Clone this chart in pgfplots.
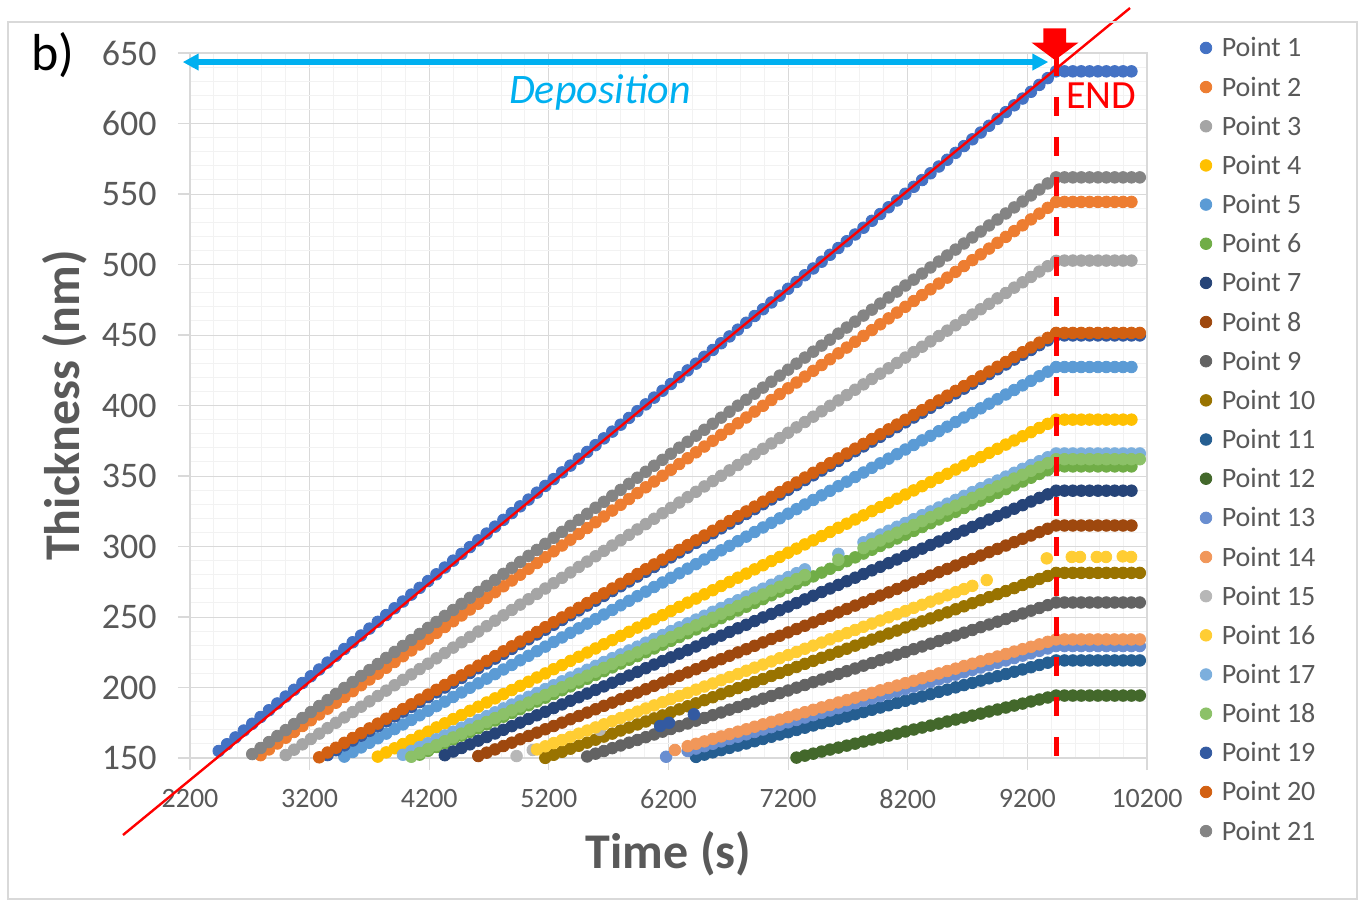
\documentclass[border=0pt]{standalone}
\usepackage{pgfplots}
\pgfplotsset{compat=1.18}
\usepackage{fontspec}
\setmainfont{Carlito}
\usetikzlibrary{arrows.meta}
\definecolor{c1}{HTML}{4472C4}\definecolor{c2}{HTML}{ED7D31}\definecolor{c3}{HTML}{A5A5A5}
\definecolor{c4}{HTML}{FFC000}\definecolor{c5}{HTML}{5B9BD5}\definecolor{c6}{HTML}{70AD47}
\definecolor{c7}{HTML}{264478}\definecolor{c8}{HTML}{9E480E}\definecolor{c9}{HTML}{636363}
\definecolor{c10}{HTML}{997300}\definecolor{c11}{HTML}{255E91}\definecolor{c12}{HTML}{43682B}
\definecolor{c13}{HTML}{698ED0}\definecolor{c14}{HTML}{F1975A}\definecolor{c15}{HTML}{B7B7B7}
\definecolor{c16}{HTML}{FFCD33}\definecolor{c17}{HTML}{7CAFDD}\definecolor{c18}{HTML}{8CC168}
\definecolor{c19}{HTML}{335AA1}\definecolor{c20}{HTML}{D26012}\definecolor{c21}{HTML}{848484}
\definecolor{txt}{HTML}{595959}\definecolor{gmaj}{HTML}{D9D9D9}\definecolor{gmin}{HTML}{F2F2F2}
\definecolor{dep}{HTML}{00B0F0}
\pgfplotsset{dot/.style={only marks, mark=*, mark size=2.9pt, color=#1}}
\begin{document}
\begin{tikzpicture}
\begin{axis}[
  set layers,
  scale only axis, width=478.5pt, height=352.5pt,
  xmin=2200, xmax=10200, ymin=150, ymax=650,
  xtick={2200,3200,4200,5200,6200,7200,8200,9200,10200},
  ytick={150,200,250,300,350,400,450,500,550,600,650},
  minor x tick num=4, minor y tick num=4,
  grid=both,
  major grid style={draw=gmaj, line width=0.5pt},
  minor grid style={draw=gmin, line width=0.5pt},
  axis line style={draw=gmaj, line width=0.6pt},
  tick pos=left, tick align=outside,
  major tick length=6pt, minor tick length=0pt,
  tick style={draw=gmaj, line width=0.6pt},
  scaled ticks=false,
  /pgf/number format/1000 sep={},
  /pgf/number format/assume math mode=true,
  xticklabel style={font=\fontsize{14}{14}\selectfont, text=txt, inner sep=0pt, anchor=north, yshift=-9.65pt},
  yticklabel style={font=\fontsize{18}{18}\selectfont, text=txt, inner sep=0pt, anchor=east, xshift=-10.5pt},
  xlabel={Time (s)}, ylabel={Thickness (nm)},
  xlabel style={font=\fontsize{25}{25}\selectfont\bfseries, text=txt, at={(axis description cs:0.5,-0.1355)}, anchor=center},
  ylabel style={font=\fontsize{25}{25}\selectfont\bfseries, text=txt, at={(axis description cs:-0.1306,0.5)}, anchor=center},
  clip=false,
  legend cell align=left,
  legend image code/.code={\draw[#1] plot coordinates {(0pt,0pt)};},
  legend style={at={(axis cs:10644.7,667.5)}, anchor=north west, draw=none, fill=none,
    inner sep=0pt, outer sep=0pt, row sep=0pt, column sep=5pt,
    font=\fontsize{14}{14}\selectfont,
    nodes={inner sep=0pt, text height=14.29pt, text depth=5.29pt, text=txt}},
]
% Point 1
\addplot[dot=c1] coordinates {(2440,155.0)(2510,159.8)(2580,164.6)(2650,169.5)(2720,174.3)(2790,179.1)(2860,183.9)(2930,188.7)(3000,193.6)(3070,198.4)(3140,203.2)(3210,208.0)(3280,212.8)(3350,217.7)(3420,222.5)(3490,227.3)(3560,232.1)(3630,236.9)(3700,241.8)(3770,246.6)(3840,251.4)(3910,256.2)(3980,261.0)(4050,265.9)(4120,270.7)(4190,275.5)(4260,280.3)(4330,285.1)(4400,290.0)(4470,294.8)(4540,299.6)(4610,304.4)(4680,309.2)(4750,314.1)(4820,318.9)(4890,323.7)(4960,328.5)(5030,333.3)(5100,338.2)(5170,343.0)(5240,347.8)(5310,352.6)(5380,357.4)(5450,362.3)(5520,367.1)(5590,371.9)(5660,376.7)(5730,381.5)(5800,386.4)(5870,391.2)(5940,396.0)(6010,400.8)(6080,405.6)(6150,410.5)(6220,415.3)(6290,420.1)(6360,424.9)(6430,429.7)(6500,434.6)(6570,439.4)(6640,444.2)(6710,449.0)(6780,453.8)(6850,458.7)(6920,463.5)(6990,468.3)(7060,473.1)(7130,477.9)(7200,482.8)(7270,487.6)(7340,492.4)(7410,497.2)(7480,502.0)(7550,506.9)(7620,511.7)(7690,516.5)(7760,521.3)(7830,526.1)(7900,531.0)(7970,535.8)(8040,540.6)(8110,545.4)(8180,550.2)(8250,555.1)(8320,559.9)(8390,564.7)(8460,569.5)(8530,574.3)(8600,579.2)(8670,584.0)(8740,588.8)(8810,593.6)(8880,598.4)(8950,603.3)(9020,608.1)(9090,612.9)(9160,617.7)(9230,622.5)(9300,627.4)(9370,632.2)(9440,637.0)(9510,637.0)(9580,637.0)(9650,637.0)(9720,637.0)(9790,637.0)(9860,637.0)(9930,637.0)(10000,637.0)(10070,637.0)};
\addlegendentry{Point 1}
% Point 2
\addplot[dot=c2] coordinates {(2790,152.0)(2860,156.1)(2930,160.3)(3000,164.4)(3070,168.5)(3140,172.7)(3210,176.8)(3280,180.9)(3350,185.0)(3420,189.2)(3490,193.3)(3560,197.4)(3630,201.6)(3700,205.7)(3770,209.8)(3840,214.0)(3910,218.1)(3980,222.2)(4050,226.3)(4120,230.5)(4190,234.6)(4260,238.7)(4330,242.9)(4400,247.0)(4470,251.1)(4540,255.3)(4610,259.4)(4680,263.5)(4750,267.6)(4820,271.8)(4890,275.9)(4960,280.0)(5030,284.2)(5100,288.3)(5170,292.4)(5240,296.6)(5310,300.7)(5380,304.8)(5450,308.9)(5520,313.1)(5590,317.2)(5660,321.3)(5730,325.5)(5800,329.6)(5870,333.7)(5940,337.9)(6010,342.0)(6080,346.1)(6150,350.2)(6220,354.4)(6290,358.5)(6360,362.6)(6430,366.8)(6500,370.9)(6570,375.0)(6640,379.2)(6710,383.3)(6780,387.4)(6850,391.5)(6920,395.7)(6990,399.8)(7060,403.9)(7130,408.1)(7200,412.2)(7270,416.3)(7340,420.5)(7410,424.6)(7480,428.7)(7550,432.8)(7620,437.0)(7690,441.1)(7760,445.2)(7830,449.4)(7900,453.5)(7970,457.6)(8040,461.8)(8110,465.9)(8180,470.0)(8250,474.1)(8320,478.3)(8390,482.4)(8460,486.5)(8530,490.7)(8600,494.8)(8670,498.9)(8740,503.1)(8810,507.2)(8880,511.3)(8950,515.4)(9020,519.6)(9090,523.7)(9160,527.8)(9230,532.0)(9300,536.1)(9370,540.2)(9440,544.4)(9510,544.4)(9580,544.4)(9650,544.4)(9720,544.4)(9790,544.4)(9860,544.4)(9930,544.4)(10000,544.4)(10070,544.4)};
\addlegendentry{Point 2}
% Point 3
\addplot[dot=c3] coordinates {(3000,152.1)(3070,155.9)(3140,159.7)(3210,163.5)(3280,167.3)(3350,171.2)(3420,175.0)(3490,178.8)(3560,182.6)(3630,186.4)(3700,190.2)(3770,194.0)(3840,197.8)(3910,201.6)(3980,205.4)(4050,209.3)(4120,213.1)(4190,216.9)(4260,220.7)(4330,224.5)(4400,228.3)(4470,232.1)(4540,235.9)(4610,239.7)(4680,243.5)(4750,247.4)(4820,251.2)(4890,255.0)(4960,258.8)(5030,262.6)(5100,266.4)(5170,270.2)(5240,274.0)(5310,277.8)(5380,281.6)(5450,285.5)(5520,289.3)(5590,293.1)(5660,296.9)(5730,300.7)(5800,304.5)(5870,308.3)(5940,312.1)(6010,315.9)(6080,319.7)(6150,323.6)(6220,327.4)(6290,331.2)(6360,335.0)(6430,338.8)(6500,342.6)(6570,346.4)(6640,350.2)(6710,354.0)(6780,357.8)(6850,361.7)(6920,365.5)(6990,369.3)(7060,373.1)(7130,376.9)(7200,380.7)(7270,384.5)(7340,388.3)(7410,392.1)(7480,395.9)(7550,399.8)(7620,403.6)(7690,407.4)(7760,411.2)(7830,415.0)(7900,418.8)(7970,422.6)(8040,426.4)(8110,430.2)(8180,434.0)(8250,437.9)(8320,441.7)(8390,445.5)(8460,449.3)(8530,453.1)(8600,456.9)(8670,460.7)(8740,464.5)(8810,468.3)(8880,472.1)(8950,476.0)(9020,479.8)(9090,483.6)(9160,487.4)(9230,491.2)(9300,495.0)(9370,498.8)(9440,502.6)(9510,502.8)(9580,502.8)(9650,502.8)(9720,502.8)(9790,502.8)(9860,502.8)(9930,502.8)(10000,502.8)(10070,502.8)};
\addlegendentry{Point 3}
% Point 4
\addplot[dot=c4] coordinates {(3770,151.0)(3840,154.0)(3910,156.9)(3980,159.9)(4050,162.8)(4120,165.8)(4190,168.7)(4260,171.7)(4330,174.6)(4400,177.6)(4470,180.5)(4540,183.5)(4610,186.4)(4680,189.4)(4750,192.3)(4820,195.3)(4890,198.2)(4960,201.2)(5030,204.1)(5100,207.1)(5170,210.0)(5240,213.0)(5310,215.9)(5380,218.9)(5450,221.8)(5520,224.8)(5590,227.7)(5660,230.7)(5730,233.6)(5800,236.6)(5870,239.5)(5940,242.5)(6010,245.4)(6080,248.4)(6150,251.3)(6220,254.3)(6290,257.2)(6360,260.2)(6430,263.1)(6500,266.1)(6570,269.0)(6640,272.0)(6710,274.9)(6780,277.9)(6850,280.8)(6920,283.8)(6990,286.7)(7060,289.7)(7130,292.6)(7200,295.6)(7270,298.5)(7340,301.5)(7410,304.4)(7480,307.4)(7550,310.3)(7620,313.3)(7690,316.2)(7760,319.2)(7830,322.1)(7900,325.1)(7970,328.0)(8040,331.0)(8110,333.9)(8180,336.9)(8250,339.8)(8320,342.8)(8390,345.7)(8460,348.7)(8530,351.6)(8600,354.6)(8670,357.5)(8740,360.5)(8810,363.4)(8880,366.4)(8950,369.3)(9020,372.3)(9090,375.2)(9160,378.2)(9230,381.1)(9300,384.1)(9370,387.0)(9440,390.0)(9510,390.0)(9580,390.0)(9650,390.0)(9720,390.0)(9790,390.0)(9860,390.0)(9930,390.0)(10000,390.0)(10070,390.0)};
\addlegendentry{Point 4}
% Point 5
\addplot[dot=c5] coordinates {(3490,151.0)(3560,154.3)(3630,157.5)(3700,160.8)(3770,164.0)(3840,167.3)(3910,170.5)(3980,173.8)(4050,177.0)(4120,180.3)(4190,183.5)(4260,186.8)(4330,190.0)(4400,193.3)(4470,196.5)(4540,199.8)(4610,203.0)(4680,206.3)(4750,209.5)(4820,212.8)(4890,216.0)(4960,219.3)(5030,222.5)(5100,225.8)(5170,229.0)(5240,232.3)(5310,235.5)(5380,238.8)(5450,242.0)(5520,245.3)(5590,248.5)(5660,251.8)(5730,255.0)(5800,258.3)(5870,261.5)(5940,264.8)(6010,268.0)(6080,271.3)(6150,274.5)(6220,277.8)(6290,281.0)(6360,284.3)(6430,287.5)(6500,290.8)(6570,294.0)(6640,297.3)(6710,300.5)(6780,303.8)(6850,307.0)(6920,310.3)(6990,313.5)(7060,316.8)(7130,320.0)(7200,323.3)(7270,326.5)(7340,329.8)(7410,333.0)(7480,336.3)(7550,339.5)(7620,342.8)(7690,346.0)(7760,349.3)(7830,352.5)(7900,355.8)(7970,359.0)(8040,362.3)(8110,365.5)(8180,368.8)(8250,372.0)(8320,375.3)(8390,378.5)(8460,381.8)(8530,385.0)(8600,388.3)(8670,391.5)(8740,394.8)(8810,398.0)(8880,401.3)(8950,404.5)(9020,407.8)(9090,411.0)(9160,414.3)(9230,417.5)(9300,420.8)(9370,424.0)(9440,427.3)(9510,427.3)(9580,427.3)(9650,427.3)(9720,427.3)(9790,427.3)(9860,427.3)(9930,427.3)(10000,427.3)(10070,427.3)};
\addlegendentry{Point 5}
% Point 6
\addplot[dot=c6] coordinates {(4120,152.4)(4190,155.1)(4260,157.8)(4330,160.5)(4400,163.2)(4470,165.9)(4540,168.5)(4610,171.2)(4680,173.9)(4750,176.6)(4820,179.3)(4890,182.0)(4960,184.7)(5030,187.4)(5100,190.1)(5170,192.8)(5240,195.4)(5310,198.1)(5380,200.8)(5450,203.5)(5520,206.2)(5590,208.9)(5660,211.6)(5730,214.3)(5800,217.0)(5870,219.7)(5940,222.3)(6010,225.0)(6080,227.7)(6150,230.4)(6220,233.1)(6290,235.8)(6360,238.5)(6430,241.2)(6500,243.9)(6570,246.6)(6640,249.2)(6710,251.9)(6780,254.6)(6850,257.3)(6920,260.0)(6990,262.7)(7060,265.4)(7130,268.1)(7200,270.8)(7270,273.5)(7340,276.1)(7410,278.8)(7480,281.5)(7550,284.2)(7620,286.9)(7690,289.6)(7760,292.3)(7830,295.0)(7900,297.7)(7970,300.4)(8040,303.0)(8110,305.7)(8180,308.4)(8250,311.1)(8320,313.8)(8390,316.5)(8460,319.2)(8530,321.9)(8600,324.6)(8670,327.3)(8740,329.9)(8810,332.6)(8880,335.3)(8950,338.0)(9020,340.7)(9090,343.4)(9160,346.1)(9230,348.8)(9300,351.5)(9370,354.2)(9440,356.8)(9510,356.8)(9580,356.8)(9650,356.8)(9720,356.8)(9790,356.8)(9860,356.8)(9930,356.8)(10000,356.8)(10070,356.8)};
\addlegendentry{Point 6}
% Point 7
\addplot[dot=c7] coordinates {(4330,152.0)(4400,154.6)(4470,157.1)(4540,159.7)(4610,162.3)(4680,164.9)(4750,167.4)(4820,170.0)(4890,172.6)(4960,175.1)(5030,177.7)(5100,180.3)(5170,182.8)(5240,185.4)(5310,188.0)(5380,190.6)(5450,193.1)(5520,195.7)(5590,198.3)(5660,200.8)(5730,203.4)(5800,206.0)(5870,208.5)(5940,211.1)(6010,213.7)(6080,216.3)(6150,218.8)(6220,221.4)(6290,224.0)(6360,226.5)(6430,229.1)(6500,231.7)(6570,234.2)(6640,236.8)(6710,239.4)(6780,242.0)(6850,244.5)(6920,247.1)(6990,249.7)(7060,252.2)(7130,254.8)(7200,257.4)(7270,259.9)(7340,262.5)(7410,265.1)(7480,267.7)(7550,270.2)(7620,272.8)(7690,275.4)(7760,277.9)(7830,280.5)(7900,283.1)(7970,285.6)(8040,288.2)(8110,290.8)(8180,293.4)(8250,295.9)(8320,298.5)(8390,301.1)(8460,303.6)(8530,306.2)(8600,308.8)(8670,311.3)(8740,313.9)(8810,316.5)(8880,319.1)(8950,321.6)(9020,324.2)(9090,326.8)(9160,329.3)(9230,331.9)(9300,334.5)(9370,337.0)(9440,339.6)(9510,339.6)(9580,339.6)(9650,339.6)(9720,339.6)(9790,339.6)(9860,339.6)(9930,339.6)(10000,339.6)(10070,339.6)};
\addlegendentry{Point 7}
% Point 8
\addplot[dot=c8] coordinates {(4610,151.4)(4680,153.8)(4750,156.1)(4820,158.5)(4890,160.9)(4960,163.3)(5030,165.6)(5100,168.0)(5170,170.4)(5240,172.7)(5310,175.1)(5380,177.5)(5450,179.8)(5520,182.2)(5590,184.6)(5660,187.0)(5730,189.3)(5800,191.7)(5870,194.1)(5940,196.4)(6010,198.8)(6080,201.2)(6150,203.5)(6220,205.9)(6290,208.3)(6360,210.7)(6430,213.0)(6500,215.4)(6570,217.8)(6640,220.1)(6710,222.5)(6780,224.9)(6850,227.2)(6920,229.6)(6990,232.0)(7060,234.4)(7130,236.7)(7200,239.1)(7270,241.5)(7340,243.8)(7410,246.2)(7480,248.6)(7550,250.9)(7620,253.3)(7690,255.7)(7760,258.1)(7830,260.4)(7900,262.8)(7970,265.2)(8040,267.5)(8110,269.9)(8180,272.3)(8250,274.6)(8320,277.0)(8390,279.4)(8460,281.8)(8530,284.1)(8600,286.5)(8670,288.9)(8740,291.2)(8810,293.6)(8880,296.0)(8950,298.3)(9020,300.7)(9090,303.1)(9160,305.5)(9230,307.8)(9300,310.2)(9370,312.6)(9440,314.9)(9510,314.9)(9580,314.9)(9650,314.9)(9720,314.9)(9790,314.9)(9860,314.9)(9930,314.9)(10000,314.9)(10070,314.9)};
\addlegendentry{Point 8}
% Point 9
\addplot[dot=c9] coordinates {(5520,151.1)(5590,153.1)(5660,155.0)(5730,157.0)(5800,158.9)(5870,160.9)(5940,162.8)(6010,164.8)(6080,166.7)(6150,168.7)(6220,170.6)(6290,172.6)(6360,174.5)(6430,176.5)(6500,178.4)(6570,180.4)(6640,182.3)(6710,184.3)(6780,186.2)(6850,188.2)(6920,190.1)(6990,192.1)(7060,194.0)(7130,196.0)(7200,197.9)(7270,199.9)(7340,201.8)(7410,203.8)(7480,205.7)(7550,207.7)(7620,209.6)(7690,211.6)(7760,213.5)(7830,215.5)(7900,217.4)(7970,219.4)(8040,221.3)(8110,223.3)(8180,225.2)(8250,227.2)(8320,229.1)(8390,231.1)(8460,233.0)(8530,235.0)(8600,236.9)(8670,238.9)(8740,240.8)(8810,242.8)(8880,244.7)(8950,246.7)(9020,248.6)(9090,250.6)(9160,252.5)(9230,254.5)(9300,256.4)(9370,258.4)(9440,260.3)(9510,260.3)(9580,260.3)(9650,260.3)(9720,260.3)(9790,260.3)(9860,260.3)(9930,260.3)(10000,260.3)(10070,260.3)(10140,260.3)};
\addlegendentry{Point 9}
% Point 10
\addplot[dot=c10] coordinates {(5170,150.1)(5240,152.3)(5310,154.4)(5380,156.6)(5450,158.7)(5520,160.9)(5590,163.0)(5660,165.2)(5730,167.3)(5800,169.5)(5870,171.6)(5940,173.8)(6010,175.9)(6080,178.1)(6150,180.2)(6220,182.4)(6290,184.5)(6360,186.7)(6430,188.8)(6500,191.0)(6570,193.1)(6640,195.3)(6710,197.4)(6780,199.6)(6850,201.7)(6920,203.9)(6990,206.0)(7060,208.2)(7130,210.3)(7200,212.5)(7270,214.6)(7340,216.8)(7410,218.9)(7480,221.1)(7550,223.2)(7620,225.4)(7690,227.5)(7760,229.7)(7830,231.8)(7900,234.0)(7970,236.1)(8040,238.3)(8110,240.4)(8180,242.6)(8250,244.7)(8320,246.9)(8390,249.0)(8460,251.2)(8530,253.3)(8600,255.5)(8670,257.6)(8740,259.8)(8810,261.9)(8880,264.1)(8950,266.2)(9020,268.4)(9090,270.5)(9160,272.7)(9230,274.8)(9300,277.0)(9370,279.1)(9440,281.3)(9510,281.3)(9580,281.3)(9650,281.3)(9720,281.3)(9790,281.3)(9860,281.3)(9930,281.3)(10000,281.3)(10070,281.3)(10140,281.3)};
\addlegendentry{Point 10}
% Point 11
\addplot[dot=c11] coordinates {(6430,150.8)(6500,152.4)(6570,154.0)(6640,155.6)(6710,157.2)(6780,158.8)(6850,160.3)(6920,161.9)(6990,163.5)(7060,165.1)(7130,166.7)(7200,168.3)(7270,169.9)(7340,171.5)(7410,173.1)(7480,174.7)(7550,176.2)(7620,177.8)(7690,179.4)(7760,181.0)(7830,182.6)(7900,184.2)(7970,185.8)(8040,187.4)(8110,189.0)(8180,190.6)(8250,192.1)(8320,193.7)(8390,195.3)(8460,196.9)(8530,198.5)(8600,200.1)(8670,201.7)(8740,203.3)(8810,204.9)(8880,206.5)(8950,208.0)(9020,209.6)(9090,211.2)(9160,212.8)(9230,214.4)(9300,216.0)(9370,217.6)(9440,219.2)(9510,219.2)(9580,219.2)(9650,219.2)(9720,219.2)(9790,219.2)(9860,219.2)(9930,219.2)(10000,219.2)(10070,219.2)(10140,219.2)};
\addlegendentry{Point 11}
% Point 12
\addplot[dot=c12] coordinates {(7270,150.3)(7340,151.7)(7410,153.1)(7480,154.6)(7550,156.0)(7620,157.4)(7690,158.8)(7760,160.2)(7830,161.7)(7900,163.1)(7970,164.5)(8040,165.9)(8110,167.3)(8180,168.8)(8250,170.2)(8320,171.6)(8390,173.0)(8460,174.4)(8530,175.9)(8600,177.3)(8670,178.7)(8740,180.1)(8810,181.5)(8880,183.0)(8950,184.4)(9020,185.8)(9090,187.2)(9160,188.6)(9230,190.1)(9300,191.5)(9370,192.9)(9440,194.3)(9510,194.3)(9580,194.3)(9650,194.3)(9720,194.3)(9790,194.3)(9860,194.3)(9930,194.3)(10000,194.3)(10070,194.3)(10140,194.3)};
\addlegendentry{Point 12}
% Point 13
\addplot[dot=c13] coordinates {(6180,150.9)(6360,155.0)(6430,156.7)(6500,158.4)(6570,160.1)(6640,161.8)(6710,163.5)(6780,165.1)(6850,166.8)(6920,168.5)(6990,170.2)(7060,171.9)(7130,173.6)(7200,175.3)(7270,177.0)(7340,178.7)(7410,180.4)(7480,182.0)(7550,183.7)(7620,185.4)(7690,187.1)(7760,188.8)(7830,190.5)(7900,192.2)(7970,193.9)(8040,195.6)(8110,197.3)(8180,198.9)(8250,200.6)(8320,202.3)(8390,204.0)(8460,205.7)(8530,207.4)(8600,209.1)(8670,210.8)(8740,212.5)(8810,214.2)(8880,215.8)(8950,217.5)(9020,219.2)(9090,220.9)(9160,222.6)(9230,224.3)(9300,226.0)(9370,227.7)(9440,229.4)(9510,229.4)(9580,229.4)(9650,229.4)(9720,229.4)(9790,229.4)(9860,229.4)(9930,229.4)(10000,229.4)(10070,229.4)(10140,229.4)};
\addlegendentry{Point 13}
% Point 14
\addplot[dot=c14] coordinates {(6254,155.7)(6360,158.4)(6430,160.1)(6500,161.8)(6570,163.6)(6640,165.3)(6710,167.0)(6780,168.7)(6850,170.4)(6920,172.2)(6990,173.9)(7060,175.6)(7130,177.3)(7200,179.0)(7270,180.8)(7340,182.5)(7410,184.2)(7480,185.9)(7550,187.6)(7620,189.4)(7690,191.1)(7760,192.8)(7830,194.5)(7900,196.2)(7970,198.0)(8040,199.7)(8110,201.4)(8180,203.1)(8250,204.8)(8320,206.6)(8390,208.3)(8460,210.0)(8530,211.7)(8600,213.4)(8670,215.2)(8740,216.9)(8810,218.6)(8880,220.3)(8950,222.0)(9020,223.8)(9090,225.5)(9160,227.2)(9230,228.9)(9300,230.6)(9370,232.4)(9440,234.1)(9510,234.1)(9580,234.1)(9650,234.1)(9720,234.1)(9790,234.1)(9860,234.1)(9930,234.1)(10000,234.1)(10070,234.1)(10140,234.1)};
\addlegendentry{Point 14}
% Point 15
\addplot[dot=c15] coordinates {(4930,151.4)(5065,155.7)(5625,170.0)};
\addlegendentry{Point 15}
% Point 16
\addplot[dot=c16] coordinates {(5100,156.1)(5170,158.3)(5240,160.6)(5310,162.8)(5380,165.0)(5450,167.3)(5520,169.5)(5590,171.7)(5660,173.9)(5730,176.2)(5800,178.4)(5870,180.6)(5940,182.9)(6010,185.1)(6080,187.3)(6150,189.6)(6220,191.8)(6290,194.0)(6360,196.2)(6430,198.5)(6500,200.7)(6570,202.9)(6640,205.2)(6710,207.4)(6780,209.6)(6850,211.9)(6920,214.1)(6990,216.3)(7060,218.5)(7130,220.8)(7200,223.0)(7270,225.2)(7340,227.5)(7410,229.7)(7480,231.9)(7550,234.2)(7620,236.4)(7690,238.6)(7760,240.8)(7830,243.1)(7900,245.3)(7970,247.5)(8040,249.8)(8110,252.0)(8180,254.2)(8250,256.5)(8320,258.7)(8390,260.9)(8460,263.1)(8530,265.4)(8600,267.6)(8670,269.8)(8740,272.1)(8860,276.2)(9362,291.6)(9571,292.6)(9640,292.6)(9780,292.6)(9857,292.6)(9997,293.0)(10067,292.6)};
\addlegendentry{Point 16}
% Point 17
\addplot[dot=c17] coordinates {(3980,152.3)(4050,155.0)(4120,157.8)(4190,160.5)(4260,163.3)(4330,166.0)(4400,168.7)(4470,171.5)(4540,174.2)(4610,177.0)(4680,179.7)(4750,182.4)(4820,185.2)(4890,187.9)(4960,190.7)(5030,193.4)(5100,196.1)(5170,198.9)(5240,201.6)(5310,204.4)(5380,207.1)(5450,209.8)(5520,212.6)(5590,215.3)(5660,218.1)(5730,220.8)(5800,223.5)(5870,226.3)(5940,229.0)(6010,231.8)(6080,234.5)(6150,237.2)(6220,240.0)(6290,242.7)(6360,245.5)(6430,248.2)(6500,250.9)(6570,253.7)(6640,256.4)(6710,259.2)(6780,261.9)(6850,264.6)(6920,267.4)(6990,270.1)(7060,272.9)(7130,275.6)(7200,278.3)(7270,281.1)(7340,283.8)(7620,294.8)(7830,303.0)(7900,305.7)(7970,308.5)(8040,311.2)(8110,314.0)(8180,316.7)(8250,319.4)(8320,322.2)(8390,324.9)(8460,327.7)(8530,330.4)(8600,333.1)(8670,335.9)(8740,338.6)(8810,341.4)(8880,344.1)(8950,346.8)(9020,349.6)(9090,352.3)(9160,355.1)(9230,357.8)(9300,360.5)(9370,363.3)(9440,366.0)(9510,366.0)(9580,366.0)(9650,366.0)(9720,366.0)(9790,366.0)(9860,366.0)(9930,366.0)(10000,366.0)(10070,366.0)(10140,366.0)};
\addlegendentry{Point 17}
% Point 18
\addplot[dot=c18] coordinates {(4050,150.9)(4120,153.6)(4190,156.4)(4260,159.1)(4330,161.9)(4400,164.6)(4470,167.3)(4540,170.1)(4610,172.8)(4680,175.6)(4750,178.3)(4820,181.0)(4890,183.8)(4960,186.5)(5030,189.3)(5100,192.0)(5170,194.7)(5240,197.5)(5310,200.2)(5380,203.0)(5450,205.7)(5520,208.4)(5590,211.2)(5660,213.9)(5730,216.7)(5800,219.4)(5870,222.1)(5940,224.9)(6010,227.6)(6080,230.4)(6150,233.1)(6220,235.8)(6290,238.6)(6360,241.3)(6430,244.1)(6500,246.8)(6570,249.5)(6640,252.3)(6710,255.0)(6780,257.8)(6850,260.5)(6920,263.2)(6990,266.0)(7060,268.7)(7130,271.5)(7200,274.2)(7270,276.9)(7340,279.7)(7620,290.6)(7830,298.9)(7900,301.6)(7970,304.3)(8040,307.1)(8110,309.8)(8180,312.6)(8250,315.3)(8320,318.0)(8390,320.8)(8460,323.5)(8530,326.3)(8600,329.0)(8670,331.7)(8740,334.5)(8810,337.2)(8880,340.0)(8950,342.7)(9020,345.4)(9090,348.2)(9160,350.9)(9230,353.7)(9300,356.4)(9370,359.1)(9440,361.9)(9510,361.9)(9580,361.9)(9650,361.9)(9720,361.9)(9790,361.9)(9860,361.9)(9930,361.9)(10000,361.9)(10070,361.9)(10140,361.9)};
\addlegendentry{Point 18}
% Point 19
\addplot[dot=c19] coordinates {(3350,152.1)(3420,155.5)(3490,159.0)(3560,162.4)(3630,165.8)(3700,169.2)(3770,172.6)(3840,176.1)(3910,179.5)(3980,182.9)(4050,186.3)(4120,189.7)(4190,193.2)(4260,196.6)(4330,200.0)(4400,203.4)(4470,206.8)(4540,210.3)(4610,213.7)(4680,217.1)(4750,220.5)(4820,223.9)(4890,227.4)(4960,230.8)(5030,234.2)(5100,237.6)(5170,241.0)(5240,244.5)(5310,247.9)(5380,251.3)(5450,254.7)(5520,258.1)(5590,261.6)(5660,265.0)(5730,268.4)(5800,271.8)(5870,275.2)(5940,278.7)(6010,282.1)(6080,285.5)(6150,288.9)(6220,292.3)(6290,295.8)(6360,299.2)(6430,302.6)(6500,306.0)(6570,309.4)(6640,312.9)(6710,316.3)(6780,319.7)(6850,323.1)(6920,326.5)(6990,330.0)(7060,333.4)(7130,336.8)(7200,340.2)(7270,343.6)(7340,347.1)(7410,350.5)(7480,353.9)(7550,357.3)(7620,360.7)(7690,364.2)(7760,367.6)(7830,371.0)(7900,374.4)(7970,377.8)(8040,381.3)(8110,384.7)(8180,388.1)(8250,391.5)(8320,394.9)(8390,398.4)(8460,401.8)(8530,405.2)(8600,408.6)(8670,412.0)(8740,415.5)(8810,418.9)(8880,422.3)(8950,425.7)(9020,429.1)(9090,432.6)(9160,436.0)(9230,439.4)(9300,442.8)(9370,446.2)(9440,449.7)(9510,449.7)(9580,449.7)(9650,449.7)(9720,449.7)(9790,449.7)(9860,449.7)(9930,449.7)(10000,449.7)(10070,449.7)(10140,449.7)(6130,172.7)(6204,175.0)(6412,181.0)};
\addlegendentry{Point 19}
% Point 20
\addplot[dot=c20] coordinates {(3280,150.5)(3350,153.9)(3420,157.3)(3490,160.8)(3560,164.2)(3630,167.6)(3700,171.0)(3770,174.4)(3840,177.9)(3910,181.3)(3980,184.7)(4050,188.1)(4120,191.5)(4190,195.0)(4260,198.4)(4330,201.8)(4400,205.2)(4470,208.6)(4540,212.1)(4610,215.5)(4680,218.9)(4750,222.3)(4820,225.7)(4890,229.2)(4960,232.6)(5030,236.0)(5100,239.4)(5170,242.8)(5240,246.3)(5310,249.7)(5380,253.1)(5450,256.5)(5520,259.9)(5590,263.4)(5660,266.8)(5730,270.2)(5800,273.6)(5870,277.0)(5940,280.5)(6010,283.9)(6080,287.3)(6150,290.7)(6220,294.1)(6290,297.6)(6360,301.0)(6430,304.4)(6500,307.8)(6570,311.2)(6640,314.7)(6710,318.1)(6780,321.5)(6850,324.9)(6920,328.3)(6990,331.8)(7060,335.2)(7130,338.6)(7200,342.0)(7270,345.4)(7340,348.9)(7410,352.3)(7480,355.7)(7550,359.1)(7620,362.5)(7690,366.0)(7760,369.4)(7830,372.8)(7900,376.2)(7970,379.6)(8040,383.1)(8110,386.5)(8180,389.9)(8250,393.3)(8320,396.7)(8390,400.2)(8460,403.6)(8530,407.0)(8600,410.4)(8670,413.8)(8740,417.3)(8810,420.7)(8880,424.1)(8950,427.5)(9020,430.9)(9090,434.4)(9160,437.8)(9230,441.2)(9300,444.6)(9370,448.0)(9440,451.5)(9510,451.5)(9580,451.5)(9650,451.5)(9720,451.5)(9790,451.5)(9860,451.5)(9930,451.5)(10000,451.5)(10070,451.5)(10140,451.5)};
\addlegendentry{Point 20}
% Point 21
\addplot[dot=c21] coordinates {(2720,152.8)(2790,157.1)(2860,161.3)(2930,165.6)(3000,169.8)(3070,174.1)(3140,178.4)(3210,182.6)(3280,186.9)(3350,191.1)(3420,195.4)(3490,199.7)(3560,203.9)(3630,208.2)(3700,212.4)(3770,216.7)(3840,221.0)(3910,225.2)(3980,229.5)(4050,233.7)(4120,238.0)(4190,242.3)(4260,246.5)(4330,250.8)(4400,255.0)(4470,259.3)(4540,263.6)(4610,267.8)(4680,272.1)(4750,276.3)(4820,280.6)(4890,284.9)(4960,289.1)(5030,293.4)(5100,297.6)(5170,301.9)(5240,306.2)(5310,310.4)(5380,314.7)(5450,318.9)(5520,323.2)(5590,327.5)(5660,331.7)(5730,336.0)(5800,340.2)(5870,344.5)(5940,348.8)(6010,353.0)(6080,357.3)(6150,361.5)(6220,365.8)(6290,370.1)(6360,374.3)(6430,378.6)(6500,382.8)(6570,387.1)(6640,391.4)(6710,395.6)(6780,399.9)(6850,404.1)(6920,408.4)(6990,412.7)(7060,416.9)(7130,421.2)(7200,425.4)(7270,429.7)(7340,434.0)(7410,438.2)(7480,442.5)(7550,446.7)(7620,451.0)(7690,455.3)(7760,459.5)(7830,463.8)(7900,468.0)(7970,472.3)(8040,476.6)(8110,480.8)(8180,485.1)(8250,489.3)(8320,493.6)(8390,497.9)(8460,502.1)(8530,506.4)(8600,510.6)(8670,514.9)(8740,519.2)(8810,523.4)(8880,527.7)(8950,531.9)(9020,536.2)(9090,540.5)(9160,544.7)(9230,549.0)(9300,553.2)(9370,557.5)(9440,561.8)(9510,561.8)(9580,561.8)(9650,561.8)(9720,561.8)(9790,561.8)(9860,561.8)(9930,561.8)(10000,561.8)(10070,561.8)(10140,561.8)};
\addlegendentry{Point 21}
% fitted red line, on top of the dots
\addplot[red, line width=1.2pt, no markers, forget plot, on layer=axis foreground] coordinates {(1640,95.4)(10057.9,681.9)};
% annotations
\begin{pgfonlayer}{axis foreground}
\draw[red, line width=2.5pt, dash pattern=on 9.5pt off 10.5pt] (axis cs:9440,647.2) -- (axis cs:9440,150);
\fill[red] (axis cs:9333.2,667.5) -- (axis cs:9522.9,667.5) -- (axis cs:9522.9,657.3) -- (axis cs:9625.7,657.3) -- (axis cs:9431,645.0) -- (axis cs:9236.2,657.3) -- (axis cs:9333.2,657.3) -- cycle;
\draw[dep, line width=2.6pt, {Triangle[length=8pt,width=8pt]}-{Triangle[length=8pt,width=8pt]}] (axis cs:2139,643.6) -- (axis cs:9375,643.6);
\node[anchor=base, font=\fontsize{21}{21}\selectfont\itshape, text=dep] at (axis cs:5627,614.5) {Deposition};
\node[anchor=base west, inner sep=0pt, font=\fontsize{20}{20}\selectfont, text=red] at (axis cs:9522.9,611.0) {END};
\node[anchor=base west, inner sep=0pt, font=\fontsize{26}{26}\selectfont, text=black] at (axis cs:871,637.9) {b)};
\draw[gmaj, line width=0.75pt] (axis cs:678.6,50) rectangle (axis cs:11955.5,672);
\end{pgfonlayer}
\coordinate (bbA) at (axis cs:611.7,47.9);
\coordinate (bbB) at (axis cs:11980.6,687.6);
\end{axis}
\pgfresetboundingbox
\path[use as bounding box] (bbA) rectangle (bbB);
\end{tikzpicture}
\end{document}
